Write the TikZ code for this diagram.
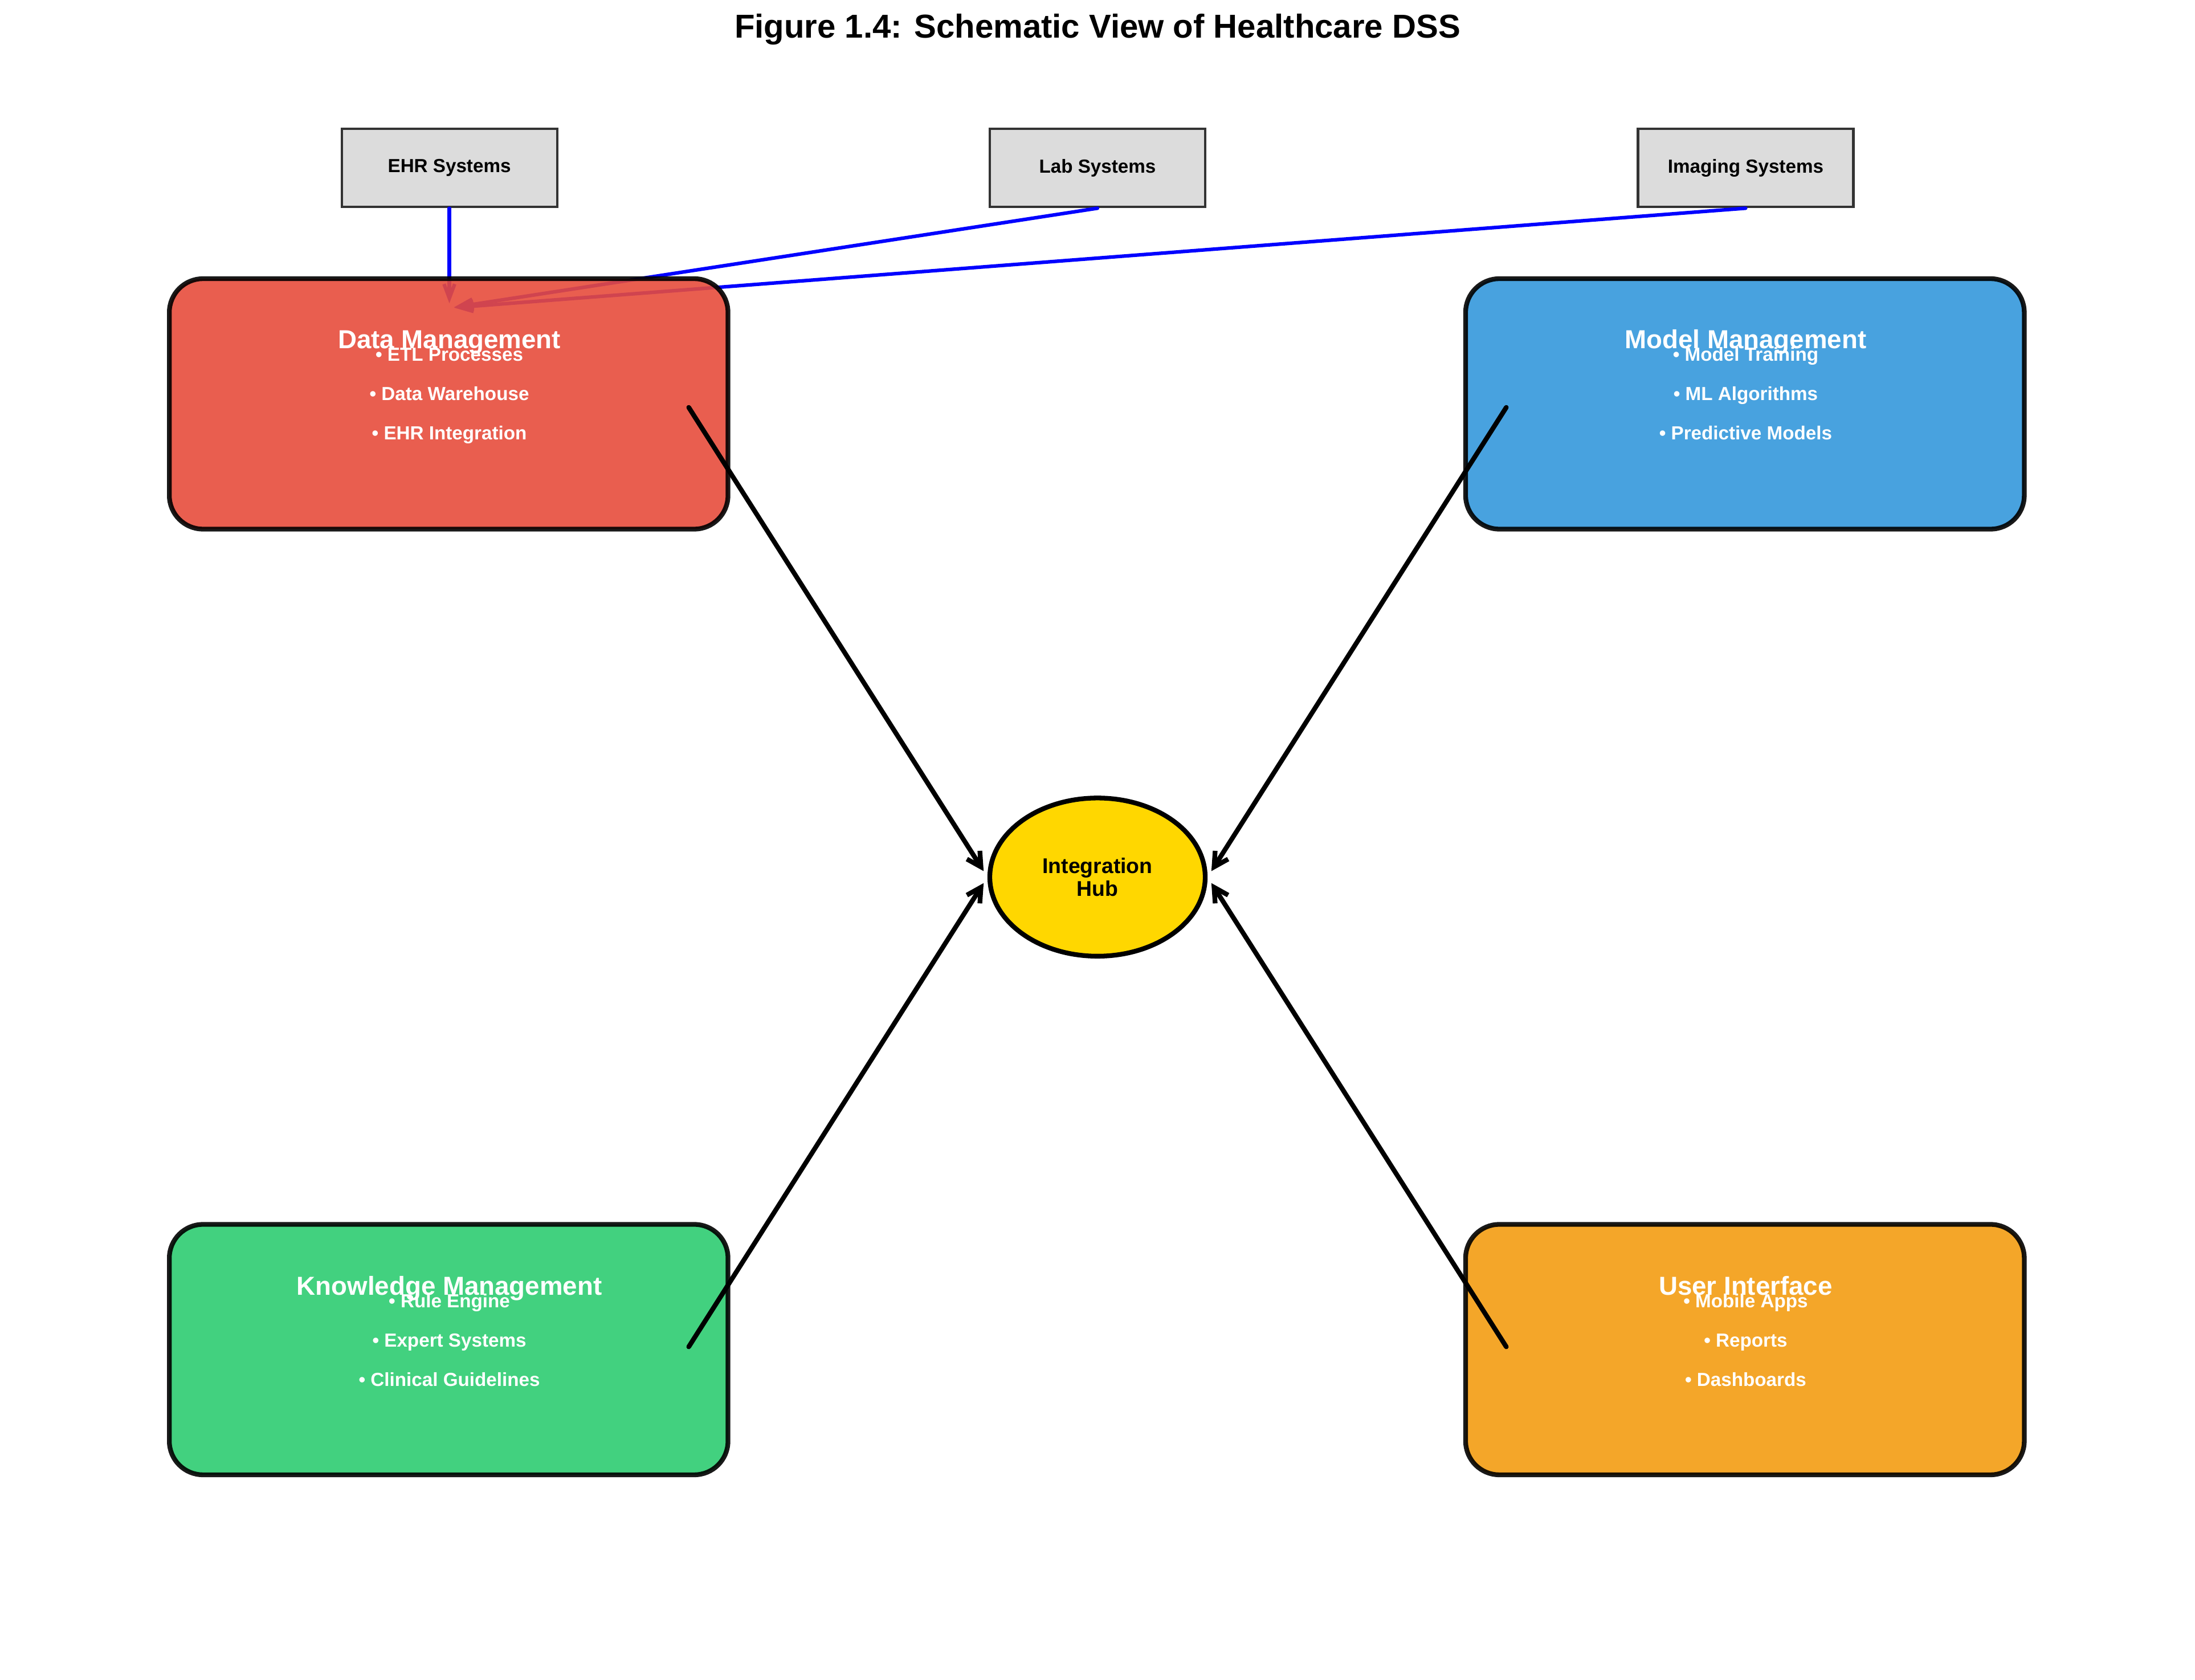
\documentclass[tikz,border=0pt]{standalone}
\usepackage{fontspec}
\setmainfont{Liberation Sans}
\usetikzlibrary{arrows.meta,shapes.geometric}
\definecolor{dmred}{HTML}{E74C3C}
\definecolor{mmblue}{HTML}{3498DB}
\definecolor{kmgreen}{HTML}{2ECC71}
\definecolor{uiorange}{HTML}{F39C12}
\definecolor{hubgold}{HTML}{FFD700}
\definecolor{srcgray}{HTML}{DCDCDC}
\definecolor{srcedge}{HTML}{333333}
\begin{document}
\begin{tikzpicture}[x=0.0208cm,y=-0.0208cm,
module/.style={draw=black,line width=2pt,rounded corners=0.5cm,minimum width=8.3cm,minimum height=3.72cm,inner sep=0pt,fill opacity=0.9,draw opacity=0.9},
source/.style={draw=srcedge,fill=srcgray,line width=1pt,minimum width=3.2cm,minimum height=1.16cm,inner sep=0pt,font=\fontsize{8}{10}\selectfont\bfseries},
head/.style={text=white,inner sep=0pt,anchor=base,font=\fontsize{11}{13}\selectfont\bfseries},
item/.style={text=white,inner sep=0pt,anchor=base,font=\fontsize{8}{10}\selectfont\bfseries},
feed/.style={->,>={Straight Barb[length=6pt,width=4.5pt]},blue,line width=1.5pt,line cap=round,shorten >=2pt},
link/.style={->,>={Straight Barb[length=6pt,width=6.5pt]},black,line width=2pt,line cap=round,shorten >=3pt}]
\useasboundingbox (0,0) rectangle (1568,1200);
\node[font=\fontsize{14}{17}\selectfont\bfseries] (title) at (784,21) {Figure 1.4: Schematic View of Healthcare DSS};
% data sources
\node[source] (ehr) at (321,120) {EHR Systems};
\node[source] (lab) at (784,120) {Lab Systems};
\node[source] (img) at (1247,120) {Imaging Systems};
\coordinate (dmin) at (321,220);
\draw[feed] (ehr.south) -- (dmin);
\draw[feed] (lab.south) -- (dmin);
\draw[feed] (img.south) -- (dmin);
% modules
\node[module,fill=dmred] (dm) at (320.5,288.5) {};
\node[module,fill=mmblue] (mm) at (1246.5,288.5) {};
\node[module,fill=kmgreen] (km) at (320.5,964) {};
\node[module,fill=uiorange] (ui) at (1246.5,964) {};
\node[head] (dm-h) at (321,249) {Data Management};
\node[head] (mm-h) at (1247,249) {Model Management};
\node[head] (km-h) at (321,925) {Knowledge Management};
\node[head] (ui-h) at (1247,925) {User Interface};
\foreach \t [count=\i] in {ETL Processes,Data Warehouse,EHR Integration}
\node[item] (dm-\i) at (321,230+28*\i) {• \t};
\foreach \t [count=\i] in {Model Training,ML Algorithms,Predictive Models}
\node[item] (mm-\i) at (1247,230+28*\i) {• \t};
\foreach \t [count=\i] in {Rule Engine,Expert Systems,Clinical Guidelines}
\node[item] (km-\i) at (321,906+28*\i) {• \t};
\foreach \t [count=\i] in {Mobile Apps,Reports,Dashboards}
\node[item] (ui-\i) at (1247,906+28*\i) {• \t};
% hub
\node[ellipse,draw=black,line width=2pt,fill=hubgold,minimum width=3.2cm,minimum height=2.35cm,inner sep=0pt,align=center,font=\fontsize{9}{9.7}\selectfont\bfseries] (hub) at (784,626.5) {Integration\\Hub};
\coordinate (dmout) at (492,291);
\coordinate (mmout) at (1076,291);
\coordinate (kmout) at (492,962);
\coordinate (uiout) at (1076,962);
\draw[link] (dmout) -- (hub.west);
\draw[link] (mmout) -- (hub.east);
\draw[link] (kmout) -- (hub.west);
\draw[link] (uiout) -- (hub.east);
\end{tikzpicture}
\end{document}
